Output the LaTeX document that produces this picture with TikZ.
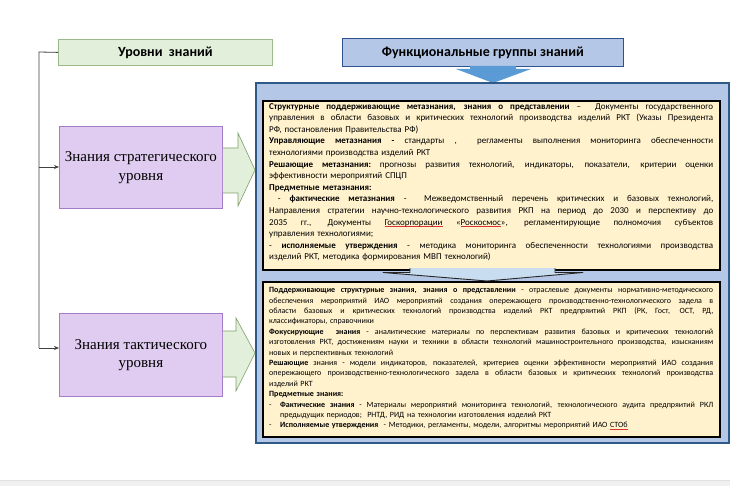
\documentclass[tikz,border=0pt]{standalone}
\usepackage{fontspec}
\setmainfont{Carlito}
\newfontfamily\timesf{Liberation Serif}
\usetikzlibrary{arrows.meta}
\definecolor{lvlgreen}{HTML}{E2EFDA}
\definecolor{lvlgreenb}{HTML}{9CB98A}
\definecolor{arrgreenb}{HTML}{7F9F6A}
\definecolor{lav}{HTML}{E0CCF0}
\definecolor{lavb}{HTML}{A57CC9}
\definecolor{fblue}{HTML}{B4C7E7}
\definecolor{fblueb}{HTML}{2F528F}
\definecolor{contb}{HTML}{2E5A88}
\definecolor{ylw}{HTML}{FFF2CC}
\definecolor{arrblue}{HTML}{5B9BD5}
\definecolor{arrlight}{HTML}{C9DDF1}
\definecolor{bandgray}{HTML}{F0F0F0}
\definecolor{spellred}{HTML}{E03030}
\newlength\ylwidth
\setlength\ylwidth{444pt}
\newcommand\Jl[1]{\hbox to \ylwidth{\spaceskip=\fontdimen2\font plus 1fil\relax\xspaceskip=\spaceskip #1}}
\newcommand\Ll[1]{\hbox to \ylwidth{#1\hfil}}
\newcommand\spellerr[1]{\setbox0\hbox{#1}\rlap{\textcolor{spellred}{\rule[-1.8pt]{\wd0}{0.5pt}}}#1}
\tikzset{
  titlebox/.style={draw, line width=0.8pt, inner sep=0pt, font=\bfseries\fontsize{14}{16}\selectfont},
  levelbox/.style={draw=lavb, fill=lav, line width=0.8pt, inner sep=0pt, align=center,
     font=\timesf\fontsize{15}{18.5}\selectfont},
  greenarrow/.style={draw=arrgreenb, fill=lvlgreen, line width=0.6pt, line join=miter},
  ybox/.style={draw=black, fill=ylw, line width=1.8pt, inner sep=0pt},
  ytext/.style={anchor=north west, inner sep=0pt, text width=444pt},
  conn/.style={draw=black!75, line width=0.8pt},
  connarrow/.style={conn, -{Stealth[length=5pt,width=4pt]}}
}
\begin{document}
\begin{tikzpicture}[x=1pt,y=-1pt]
\useasboundingbox (0,0) rectangle (730,486);
\fill[white] (0,0) rectangle (730,486);
\fill[bandgray] (0,480) rectangle (730,486);
\draw[black!12, line width=0.6pt] (0,480) -- (730,480);

% title boxes
\node[titlebox, draw=lvlgreenb, fill=lvlgreen, minimum width=214pt, minimum height=26pt, anchor=north west] (levels) at (58,39) {Уровни\ \ знаний};
\node[titlebox, draw=fblueb, fill=fblue, minimum width=281pt, minimum height=28pt, anchor=north west] (groups) at (342,38) {Функциональные группы знаний};

% blue arrow below the title
\coordinate (garrtip) at (493,83);
\fill[arrblue] (470,66) -- (516,66) -- (516,69) -- (531,69) -- (garrtip) -- (456,69) -- (470,69) -- cycle;

% container
\node[draw=contb, fill=fblue, line width=1.8pt, minimum width=473pt, minimum height=360pt, anchor=north west, inner sep=0pt] (cont) at (255,82) {};

% level boxes
\node[levelbox, minimum width=163pt, minimum height=82pt, anchor=north west] (strat) at (59,126) {Знания стратегического\\уровня};
\node[levelbox, minimum width=163pt, minimum height=83pt, anchor=north west] (tact) at (59,313) {Знания тактического\\уровня};

% green block arrows
\draw[greenarrow] (strat.east |- 0,148) -- (238,148) -- (238,133) -- (255,170) -- (238,206) -- (238,193) -- (strat.east |- 0,193);
\draw[greenarrow] (tact.east |- 0,331) -- (236,331) -- (236,318) -- (255,353) -- (236,391) -- (236,377) -- (tact.east |- 0,377);

% connectors from the title "levels"
\coordinate (bend1) at (39,52);
\coordinate (split) at (39,167);
\coordinate (bend2) at (39,348);
\draw[conn] (levels.west) -- (bend1) -- (bend2);
\draw[connarrow] (split) -- (strat.west |- split);
\draw[connarrow] (bend2) -- (tact.west |- bend2);

% yellow boxes
\node[ybox, minimum width=457pt, minimum height=169pt, anchor=north west] (upbox) at (262,100) {};
\node[ybox, minimum width=457pt, minimum height=155pt, anchor=north west] (lowbox) at (262,281) {};

% arrow between boxes
\draw[draw=black!85, fill=arrlight, line width=0.9pt, line join=round]
  (410,268) -- (410,272.5) -- (383,272.5) -- (lowbox.north -| 487,0) -- (583,272.5) -- (555,272.5) -- (555,268);

% upper text
\node[ytext, font=\fontsize{9}{11.6}\selectfont] (uptext) at (269,103) {%
\Jl{\textbf{Структурные поддерживающие метазнания, знания о представлении} –\ \ Документы государственного}
\Jl{управления в области базовых и критических технологий производства изделий РКТ (Указы Президента}
\Ll{РФ, постановления Правительства РФ)}
\Jl{\textbf{Управляющие метазнания -} стандарты ,\ \ регламенты выполнения мониторинга обеспеченности}
\Ll{технологиями производства изделий РКТ}
\Jl{\textbf{Решающие метазнания:} прогнозы развития технологий, индикаторы, показатели, критерии оценки}
\Ll{эффективности мероприятий СПЦП}
\Ll{\textbf{Предметные метазнания:}}
\Jl{\ - \textbf{фактические метазнания} -\ \ Межведомственный перечень критических и базовых технологий,}
\Jl{Направления стратегии научно-технологического развития РКП на период до 2030 и перспективу до}
\Jl{2035 гг., Документы \spellerr{Госкорпорации} «\spellerr{Роскосмос}», регламентирующие полномочия субъектов}
\Ll{управления технологиями;}
\Jl{- \textbf{исполняемые утверждения} - методика мониторинга обеспеченности технологиями производства}
\Ll{изделий РКТ, методика формирования МВП технологий)}
};

% lower text
\node[ytext, font=\fontsize{8}{10.4}\selectfont] (lowtext) at (269,287.3) {%
\Jl{\textbf{Поддерживающие структурные знания, знания о представлении} - отраслевые документы нормативно-методического}
\Jl{обеспечения мероприятий ИАО мероприятий создания опережающего производственно-технологического задела в}
\Jl{области базовых и критических технологий производства изделий РКТ предпряитий РКП (РК, Гост, ОСТ, РД,}
\Ll{классификаторы, справочники}
\Jl{\textbf{Фокусирующие\ \ знания} - аналитические материалы по перспективам развития базовых и критических технологий}
\Jl{изготовления РКТ, достижениям науки и техники в области технологий машиностроительного производства, изысканиям}
\Ll{новых и перспективных технологий}
\Jl{\textbf{Решающие} знания - модели индикаторов, показателей, критериев оценки эффективности мероприятий ИАО создания}
\Jl{опережающего производственно-технологического задела в области базовых и критических технологий производства}
\Ll{изделий РКТ}
\Ll{\textbf{Предметные знания:}}
\Jl{\makebox[11pt][l]{-}\textbf{Фактические знания} - Материалы мероприятий мониторинга технологий, технологического аудита предпряитий РКЛ}
\Ll{\hspace*{11pt}предыдущих периодов;\ \ РНТД, РИД на технологии изготовления изделий РКТ}
\Ll{\makebox[11pt][l]{-}\textbf{Исполняемые утверждения}\ \ - Методики, регламенты, модели, алгоритмы мероприятий ИАО \spellerr{СТОб}}
};
\end{tikzpicture}
\end{document}
